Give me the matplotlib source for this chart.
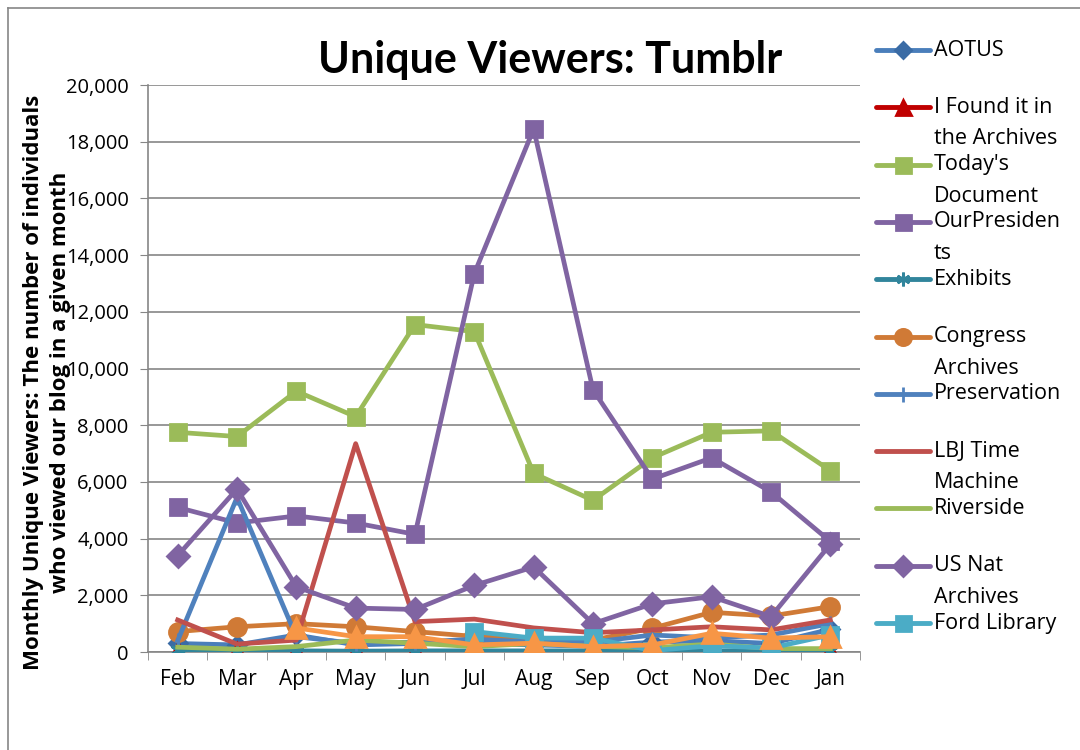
import matplotlib
matplotlib.use('Agg')
import matplotlib.pyplot as plt
from matplotlib.lines import Line2D
import numpy as np

months = ['Feb', 'Mar', 'Apr', 'May', 'Jun', 'Jul', 'Aug', 'Sep', 'Oct', 'Nov', 'Dec', 'Jan']

nan = np.nan
aotus = [300, 250, 600, 250, 300, 300, 250, 200, 350, 400, 300, 800]
found_it = [20, 20, 20, 20, 20, 20, 20, 20, 20, 20, 20, 20]
todays_doc = [7750, 7600, 9200, 8300, 11550, 11300, 6300, 5350, 6850, 7750, 7800, 6400]
our_presidents = [5100, 4550, 4800, 4550, 4150, 13350, 18450, 9250, 6100, 6850, 5650, 3900]
exhibits = [60, 50, 40, 30, 40, 40, 40, 40, 40, 40, 40, 40]
congress = [720, 890, 1000, 890, 720, 550, 450, 420, 840, 1400, 1270, 1600]
preservation = [400, 5450, 540, 300, 350, 450, 350, 350, 600, 500, 600, 1000]
lbj = [1130, 280, 420, 7350, 1070, 1160, 850, 680, 780, 890, 780, 1130]
riverside = [170, 100, 190, 420, 310, 190, 300, 200, 150, 280, 120, 120]
us_nat = [3400, 5750, 2300, 1550, 1500, 2350, 3000, 1000, 1700, 1950, 1250, 3800]
ford = [nan, nan, nan, nan, nan, 720, 490, 490, 50, 220, 140, 600]
extra = [nan, nan, 850, 540, 540, 250, 310, 190, 250, 660, 490, 540]

# (name shown in legend, values, line colour, marker, marker colour, marker size)
series = [
    ('AOTUS', aotus, '#4A7EBB', 'D', '#3A6BA5', 9),
    ('I Found it in\nthe Archives', found_it, '#C00000', '^', '#C00000', 12),
    ("Today's\nDocument", todays_doc, '#9BBB59', 's', '#9BBB59', 12),
    ('OurPresiden\nts', our_presidents, '#8064A2', 's', '#8064A2', 12),
    ('Exhibits', exhibits, '#31859C', (6, 2, 0), '#31859C', 11),
    ('Congress\nArchives', congress, '#D07A36', 'o', '#D07A36', 13),
    ('Preservation', preservation, '#4F81BD', '|', '#4F81BD', 12),
    ('LBJ Time\nMachine', lbj, '#C0504D', None, None, 0),
    ('Riverside', riverside, '#9BBB59', None, None, 0),
    ('US Nat\nArchives', us_nat, '#8064A2', 'D', '#8064A2', 11),
    ('Ford Library', ford, '#4BACC6', 's', '#4BACC6', 12),
    (None, extra, '#F79646', '^', '#F79646', 14),
]

plt.rcParams['font.family'] = ['Open Sans', 'DejaVu Sans']

fig = plt.figure(figsize=(10.8, 7.5), dpi=100)
ax = fig.add_axes([148 / 1080, 1 - 652 / 750, (860 - 148) / 1080, (652 - 85) / 750])

x = np.arange(len(months))
for name, vals, col, mk, mcol, ms in series:
    ax.plot(x, vals, color=col, lw=3.4, marker=mk, markersize=ms,
            markerfacecolor=mcol, markeredgecolor=mcol, markeredgewidth=2,
            solid_joinstyle='round', zorder=3)

ax.set_xlim(-0.5, len(months) - 0.5)
ax.set_ylim(0, 20000)
ax.set_yticks(np.arange(0, 20001, 2000))
ax.set_yticklabels([f'{v:,}' for v in range(0, 20001, 2000)], fontsize=14.5)
ax.set_xticks(x)
ax.set_xticklabels(months, fontsize=15)
ax.set_xticks(np.arange(-0.5, len(months)), minor=True)
ax.tick_params(axis='x', which='major', length=0, pad=12)
ax.tick_params(axis='x', which='minor', length=6, color='#868686', direction='out')
ax.tick_params(axis='y', length=6, color='#868686', direction='out', pad=8)
ax.grid(axis='y', color='#868686', lw=1.2)
ax.set_axisbelow(True)
for side in ['top', 'right']:
    ax.spines[side].set_visible(False)
for side in ['left', 'bottom']:
    ax.spines[side].set_color('#868686')
    ax.spines[side].set_linewidth(1.2)

fig.text(550 / 1080, 1 - 60 / 750, 'Unique Viewers: Tumblr', fontsize=31,
         fontweight='bold', family=['Lato', 'DejaVu Sans'], ha='center', va='center')
fig.text(47 / 1080, 1 - 382 / 750,
         'Monthly Unique Viewers: The number of individuals\nwho viewed our blog in a given month',
         rotation=90, fontsize=16, fontweight='bold', ha='center', va='center',
         multialignment='center', linespacing=1.4)

# legend drawn by hand, Excel style
for i, (name, vals, col, mk, mcol, ms) in enumerate(series):
    if name is None:
        continue
    yy = 1 - (50 + i * 57.3) / 750
    fig.add_artist(Line2D([876 / 1080, 930 / 1080], [yy, yy], color=col, lw=3.5,
                          solid_capstyle='round'))
    if mk is not None:
        fig.add_artist(Line2D([903 / 1080], [yy], marker=mk, markersize=ms * 0.9,
                              markerfacecolor=mcol, markeredgecolor=mcol,
                              markeredgewidth=2, linestyle='none'))
    for j, line in enumerate(name.split('\n')):
        fig.text(934 / 1080, yy - j * 31.5 / 750, line, fontsize=15.5,
                 ha='left', va='center')

# chart frame
fig.add_artist(Line2D([8 / 1080, 8 / 1080], [0, 1 - 8 / 750], color='#868686', lw=1.2))
fig.add_artist(Line2D([8 / 1080, 1], [1 - 8 / 750, 1 - 8 / 750], color='#868686', lw=1.2))

fig.savefig('out.png', dpi=100)
